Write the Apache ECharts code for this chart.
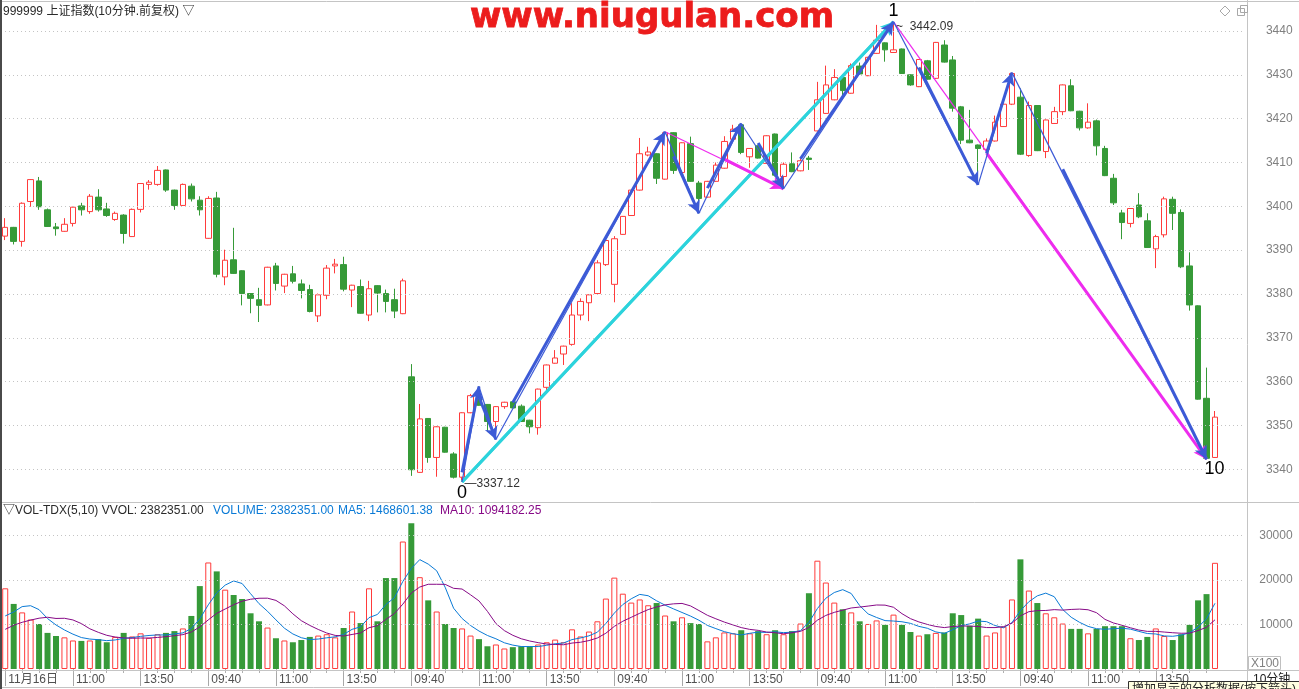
<!DOCTYPE html>
<html><head><meta charset="utf-8">
<script src="https://cdn.jsdelivr.net/npm/echarts@6/dist/echarts.min.js"></script>
<style>html,body{margin:0;padding:0;background:#fff;overflow:hidden}#c{width:1299px;height:689px}</style>
</head><body><div id="c"></div>
<script>
// ---------- data ----------
const sessionTimes = ['09:40','09:50','10:00','10:10','10:20','10:30','10:40','10:50','11:00','11:10','11:20','11:30',
  '13:10','13:20','13:30','13:40','13:50','14:00','14:10','14:20','14:30','14:40','14:50','15:00'];
const firstDateLabel = '11月16日';
const labelledTimes = ['09:40','11:00','13:50'];

const opens = [3393.2,3395.2,3392.0,3401.1,3405.8,3399.2,3395.3,3394.3,3396.1,3400.1,3398.8,3402.1,3399.4,3397.0,3398.0,3393.1,3399.3,3405.0,3405.0,3408.3,3403.7,3400.2,3404.6,3401.4,
  3392.7,3401.9,3383.9,3387.8,3385.3,3380.1,3378.7,3377.5,3386.4,3381.8,3384.6,3382.3,3381.0,3375.0,3379.7,3386.4,3386.7,3380.9,3381.7,3375.2,3381.9,3380.1,3378.7,3375.5,
  3361.1,3339.3,3351.6,3342.7,3349.6,3343.5,3338.2,3352.9,3356.5,3354.8,3350.9,3354.3,3355.4,3354.4,3351.2,3349.5,3358.7,3364.2,3366.3,3368.5,3375.2,3378.0,3380.1,3386.7,
  3382.2,3393.6,3397.9,3403.7,3411.7,3412.0,3406.2,3416.8,3407.7,3414.3,3405.3,3402.1,3405.7,3408.7,3415.3,3418.6,3411.3,3413.8,3409.8,3416.5,3406.8,3409.7,3408.1,3411.0,
  3417.2,3421.2,3424.3,3429.4,3425.8,3432.0,3429.8,3434.9,3437.3,3435.1,3435.9,3430.0,3427.3,3433.2,3429.2,3436.8,3433.4,3422.7,3415.1,3414.0,3413.0,3414.9,3418.2,3423.3,
  3424.9,3411.6,3423.0,3412.5,3418.9,3421.6,3427.5,3421.7,3417.9,3419.5,3413.2,3406.4,3398.5,3396.1,3400.3,3396.7,3390.3,3393.5,3401.6,3398.6,3386.4,3377.3,3356.2,3342.7];
const highs = [3397.3,3395.3,3400.9,3406.2,3406.7,3399.5,3396.2,3397.3,3399.9,3400.8,3402.8,3403.9,3400.8,3398.8,3398.2,3399.5,3405.3,3406.0,3409.2,3408.4,3403.8,3405.2,3405.2,3402.3,
  3402.3,3403.3,3390.1,3395.1,3385.4,3380.2,3381.4,3386.2,3387.1,3384.6,3386.4,3383.3,3382.1,3380.1,3386.6,3388.0,3388.5,3382.1,3383.3,3383.0,3382.0,3381.0,3381.2,3383.5,
  3364.0,3354.9,3351.7,3349.8,3349.7,3343.9,3353.0,3357.2,3358.9,3354.9,3354.4,3355.4,3355.5,3354.8,3351.3,3358.4,3363.9,3367.2,3368.2,3377.9,3379.0,3379.9,3387.7,3392.6,
  3393.2,3397.8,3403.9,3415.6,3413.6,3412.1,3417.0,3416.9,3414.6,3415.9,3405.8,3405.8,3410.0,3416.0,3418.6,3418.9,3413.3,3413.9,3416.2,3416.6,3410.0,3412.3,3411.0,3411.5,
  3428.4,3432.1,3431.3,3429.5,3432.6,3432.8,3434.1,3441.4,3437.4,3442.09,3436.0,3430.1,3433.6,3433.4,3437.5,3437.9,3434.3,3422.9,3422.0,3414.1,3415.5,3420.7,3423.4,3430.5,
  3426.9,3423.9,3423.1,3419.8,3422.7,3427.8,3429.0,3421.8,3423.5,3419.8,3413.8,3407.4,3399.2,3399.6,3403.0,3398.4,3393.5,3402.2,3402.2,3399.3,3389.5,3377.4,3363.2,3353.3];
const lows = [3392.3,3391.3,3390.8,3399.9,3399.2,3395.3,3393.3,3394.2,3395.4,3397.9,3398.3,3398.8,3397.6,3396.7,3391.5,3393.0,3398.6,3403.8,3404.7,3403.3,3399.2,3400.1,3401.1,3397.9,
  3392.6,3383.8,3382.0,3384.6,3377.4,3375.6,3373.6,3377.4,3380.8,3380.2,3382.4,3379.0,3375.8,3373.6,3378.8,3384.7,3380.6,3377.0,3375.5,3373.8,3375.8,3375.8,3374.5,3375.4,
  3338.5,3339.2,3341.5,3338.3,3343.8,3337.9,3337.12,3352.8,3354.5,3348.5,3346.8,3353.8,3353.9,3350.8,3348.2,3347.9,3358.1,3364.1,3363.8,3368.2,3374.0,3373.8,3380.0,3386.4,
  3378.1,3393.5,3397.8,3403.6,3411.4,3405.1,3406.1,3407.4,3407.6,3405.6,3398.4,3402.0,3405.6,3408.6,3415.2,3411.9,3408.8,3410.9,3409.7,3406.8,3404.0,3407.8,3408.0,3408.3,
  3417.1,3421.1,3424.2,3424.9,3425.7,3430.1,3429.7,3434.8,3433.0,3435.0,3430.2,3427.5,3427.2,3428.9,3429.1,3432.8,3421.6,3414.2,3414.4,3404.9,3412.9,3414.8,3418.1,3423.1,
  3411.7,3411.3,3412.6,3411.0,3418.8,3420.8,3421.7,3417.3,3417.7,3411.6,3406.9,3400.3,3392.5,3395.2,3397.3,3390.5,3385.9,3392.9,3394.6,3385.9,3376.2,3355.9,3342.3,3342.6];
const closes = [3395.2,3392.0,3400.7,3406.1,3399.9,3395.4,3394.9,3395.9,3399.8,3399.2,3402.3,3399.2,3397.9,3398.4,3393.8,3399.3,3405.2,3405.5,3408.2,3403.7,3400.2,3405.0,3401.7,3399.2,
  3401.8,3384.5,3387.7,3384.7,3380.1,3379.0,3377.4,3386.1,3382.4,3384.5,3382.9,3380.8,3376.0,3379.8,3385.9,3386.8,3381.1,3382.0,3375.6,3381.2,3380.2,3378.3,3376.1,3383.0,
  3339.9,3351.5,3342.7,3349.7,3343.9,3338.2,3352.9,3356.8,3354.6,3350.9,3354.3,3355.3,3354.0,3350.9,3349.7,3358.3,3363.8,3365.4,3368.1,3375.2,3378.3,3379.8,3387.1,3392.2,
  3392.6,3397.7,3403.7,3412.0,3412.4,3406.4,3416.8,3408.2,3414.5,3405.7,3401.8,3405.7,3409.4,3414.8,3417.6,3412.3,3413.2,3411.0,3416.1,3407.1,3409.6,3407.9,3410.4,3410.7,
  3424.3,3427.7,3429.4,3426.4,3432.1,3430.2,3434.0,3437.9,3435.7,3435.7,3430.3,3427.7,3433.5,3429.0,3437.4,3432.9,3422.4,3415.1,3414.5,3413.2,3414.9,3419.2,3423.3,3430.3,
  3411.9,3423.0,3412.7,3419.7,3421.6,3427.7,3421.8,3417.9,3419.2,3413.8,3407.0,3400.8,3396.3,3399.5,3397.6,3390.6,3393.1,3401.7,3398.4,3386.2,3377.5,3356.0,3342.5,3351.9];
const volumes = [18100,14600,12700,11100,10100,8100,7400,7100,6400,6300,6400,6700,6000,7200,8100,7300,8000,7000,7800,8100,8500,9100,11900,18600,
  23900,21900,17800,16600,15700,12500,10700,9300,6900,6400,6000,6500,7200,7500,7800,7100,9200,12900,10300,18100,10700,20400,20400,28600,
  32700,20600,15400,12900,10100,9200,9100,7500,6700,5100,5500,4600,4900,5100,5100,5500,6000,6600,6000,8900,7300,8400,10700,15800,
  20500,16900,14900,15600,14300,14800,12000,10700,11600,10300,10100,6200,7100,8200,8000,8700,8000,8500,7800,8700,7800,8500,10200,17000,
  24300,19400,14900,13400,12700,10700,10100,10900,9900,12200,9900,8300,7500,7800,8100,8200,12500,12100,9700,11300,7500,8200,9500,15600,
  24600,17600,14800,12500,11600,10200,9000,9000,8000,9000,9600,9600,9600,6900,6500,7200,9100,7400,6500,7800,9900,15400,16800,23824];
// volumes of the bars just before the window (only used to warm up the moving averages)
const volumesBefore = [5500,6000,6200,5800,6000,10100,6700,10100,14500];
const priceTicks = [3340,3350,3360,3370,3380,3390,3400,3410,3420,3430,3440];
const volumeTicks = [10000,20000,30000];
// wave annotation pivots [barIndex, price]
const wavePivots = [[54,3337.12],[56,3358.9],[58,3346.8],[78,3417.0],[82,3398.4],[87,3418.9],[92,3404.0],[105,3442.09],[115,3404.9],[119,3430.5],[142,3342.3]];
const waveTaper = [0.1,0.2,0.12,0.3,0.28,0.3,0.18,0.28,0.28,0.25];
const magentaArrows = [[[78,3417.0],[92,3404.0],0.48],[[105,3442.09],[142,3342.3],0.3]];
const cyanArrows = [[[54,3337.12],[105,3442.09],0]];
const waveLabels = [['0',54,3337.12,[0,11]],['1',105,3442.09,[0,-11]],['10',142,3342.3,[8,10]]];
const mainTitle = '999999 上证指数(10分钟.前复权) ▽';
const volTitle = ['▽VOL-TDX(5,10) VVOL: 2382351.00','VOLUME: 2382351.00','MA5: 1468601.38','MA10: 1094182.25'];

// ---------- build ----------
const FONT = "'Liberation Sans','Noto Sans CJK SC',sans-serif";
const RED = '#ff3b3b', GREEN = '#369a38';
const nBars = opens.length, padSlots = 3;
const categories = [];
for (let i = 0; i < nBars; i++) categories.push(Math.floor(i / 24) + '|' + sessionTimes[i % 24]);
for (let k = 0; k < padSlots; k++) categories.push('pad' + k);
const timeOf = v => v.indexOf('|') >= 0 ? v.split('|')[1] : '';
const isLabelled = (idx) => idx < nBars && labelledTimes.indexOf(sessionTimes[idx % 24]) >= 0;

const candleData = opens.map((o, i) => [o, closes[i], lows[i], highs[i]]);
const volData = volumes.map((v, i) => ({
  value: v,
  itemStyle: closes[i] >= opens[i] ? {color: '#ffffff', borderColor: RED, borderWidth: 1} : {color: GREEN, borderColor: GREEN, borderWidth: 0}
}));
const allVols = volumesBefore.concat(volumes);
function ma(n) {
  return volumes.map((v, i) => {
    const end = i + volumesBefore.length;
    let s = 0; for (let k = end - n + 1; k <= end; k++) s += allVols[k];
    return +(s / n).toFixed(1);
  });
}

function arrowItems(a, b, taper, color, thin, thick, size) {
  const items = [];
  const m = [a[0] + (b[0] - a[0]) * taper, a[1] + (b[1] - a[1]) * taper];
  items.push([{coord: a, symbol: 'none', lineStyle: {color, width: thin, type: 'solid'}},
              {coord: b, symbol: 'none', lineStyle: {color, width: thin, type: 'solid'}}]);
  items.push([{coord: m, symbol: 'none', lineStyle: {color, width: thick, type: 'solid'}},
              {coord: b, symbol: 'arrow', symbolSize: size, lineStyle: {color, width: thick, type: 'solid'}}]);
  return items;
}
let arrowData = [];
cyanArrows.forEach(c => { arrowData = arrowData.concat(arrowItems(c[0], c[1], c[2], '#2cd3dc', 3, 3, [10, 13])); });
magentaArrows.forEach(c => { arrowData = arrowData.concat(arrowItems(c[0], c[1], c[2], '#ee2cee', 1.2, 3, [10, 13])); });
for (let i = 0; i < wavePivots.length - 1; i++) {
  arrowData = arrowData.concat(arrowItems(wavePivots[i], wavePivots[i + 1], waveTaper[i], '#3c5ad6', 1.2, 3, [10, 13]));
}

let lowIdx = 0, highIdx = 0;
lows.forEach((v, i) => { if (v < lows[lowIdx]) lowIdx = i; });
highs.forEach((v, i) => { if (v > highs[highIdx]) highIdx = i; });
const hiddenSym = {symbol: 'rect', symbolSize: 1, itemStyle: {color: 'rgba(0,0,0,0)'}};
const markPoints = waveLabels.map(w => Object.assign({}, hiddenSym, {
  coord: [w[1], w[2]],
  label: {show: true, position: 'inside', offset: w[3], formatter: w[0], color: '#000', fontSize: 18, fontFamily: FONT}
}));
markPoints.push(Object.assign({}, hiddenSym, {coord: [lowIdx, lows[lowIdx]],
  label: {show: true, position: 'right', distance: 2, offset: [0, 2], formatter: '—' + lows[lowIdx].toFixed(2), color: '#333', fontSize: 12, fontFamily: FONT}}));
markPoints.push(Object.assign({}, hiddenSym, {coord: [highIdx, highs[highIdx]],
  label: {show: true, position: 'right', distance: 2, offset: [0, 5], formatter: '~  ' + highs[highIdx].toFixed(2), color: '#333', fontSize: 12, fontFamily: FONT}}));

const dotted = {color: '#c4c4c4', width: 1, type: [1, 3]};
const LINE = '#c4c4c4';
const option = {
  animation: false,
  backgroundColor: '#ffffff',
  textStyle: {fontFamily: FONT},
  grid: [
    {left: 1, top: 9.09, width: 1243.6, height: 482.12},
    {left: 1, top: 513, width: 1243.6, height: 156}
  ],
  xAxis: [
    {type: 'category', gridIndex: 0, data: categories, boundaryGap: true, axisLine: {show: false}, axisTick: {show: false}, axisLabel: {show: false}, splitLine: {show: false}},
    {type: 'category', gridIndex: 1, data: categories, boundaryGap: true, position: 'bottom',
      axisLine: {show: false},
      axisTick: {show: true, alignWithLabel: true, length: 17, interval: (idx) => isLabelled(idx), lineStyle: {color: '#a8a8a8'}},
      axisLabel: {show: true, interval: (idx) => isLabelled(idx), align: 'left', margin: 5, padding: [0, 0, 0, 3],
        formatter: (v, idx) => idx === 0 ? firstDateLabel : timeOf(v), color: '#505050', fontSize: 12, fontFamily: FONT},
      splitLine: {show: false}},
    {type: 'category', gridIndex: 1, data: categories, boundaryGap: true, position: 'bottom', offset: 0,
      axisLine: {show: false},
      axisTick: {show: true, alignWithLabel: true, length: 4, interval: (idx) => idx % 2 === 0 && idx < nBars, lineStyle: {color: '#b0b0b0'}},
      axisLabel: {show: false}, splitLine: {show: false}}
  ],
  yAxis: [
    {type: 'value', gridIndex: 0, position: 'right', min: 3335, max: 3445, interval: 5,
      axisLine: {show: false}, axisTick: {show: false}, splitLine: {show: false},
      axisLabel: {show: true, align: 'right', margin: 48, color: '#808080', fontSize: 12, fontFamily: FONT,
        formatter: v => priceTicks.indexOf(v) >= 0 ? String(v) : ''}},
    {type: 'value', gridIndex: 1, position: 'right', min: 0, max: 35000, interval: 5000,
      axisLine: {show: false}, axisTick: {show: false}, splitLine: {show: false},
      axisLabel: {show: true, align: 'right', margin: 48, color: '#808080', fontSize: 12, fontFamily: FONT,
        formatter: v => volumeTicks.indexOf(v) >= 0 ? String(v) : ''}}
  ],
  series: [
    {type: 'candlestick', name: 'K', xAxisIndex: 0, yAxisIndex: 0, data: candleData, barWidth: 6,
      itemStyle: {color: '#ffffff', color0: GREEN, borderColor: RED, borderColor0: GREEN, borderWidth: 1},
      markLine: {silent: true, symbol: ['none', 'none'], label: {show: false}, lineStyle: dotted,
        data: priceTicks.map(v => ({yAxis: v}))}},
    {type: 'bar', name: 'VOL', xAxisIndex: 1, yAxisIndex: 1, data: volData, barWidth: 6,
      markLine: {silent: true, symbol: ['none', 'none'], label: {show: false}, lineStyle: dotted,
        data: volumeTicks.map(v => ({yAxis: v}))}},
    {type: 'line', name: 'MA5', xAxisIndex: 1, yAxisIndex: 1, data: ma(5), showSymbol: false, symbol: 'none',
      lineStyle: {color: '#0a7ad6', width: 1}, z: 3},
    {type: 'line', name: 'MA10', xAxisIndex: 1, yAxisIndex: 1, data: ma(10), showSymbol: false, symbol: 'none',
      lineStyle: {color: '#870a87', width: 1}, z: 3},
    {type: 'line', name: 'annot', xAxisIndex: 0, yAxisIndex: 0, data: categories.map(() => '-'), showSymbol: false, symbol: 'none',
      silent: true, z: 5,
      markLine: {silent: true, symbol: ['none', 'none'], label: {show: false}, data: arrowData},
      markPoint: {silent: true, data: markPoints}}
  ],
  graphic: {elements: [
    {type: 'rect', shape: {x: 0, y: 0, width: 2, height: 689}, style: {fill: '#4a4a4a'}, z: 10},
    {type: 'line', shape: {x1: 2, y1: 1.5, x2: 1299, y2: 1.5}, style: {stroke: LINE, lineWidth: 1}, z: 10},
    {type: 'line', shape: {x1: 2, y1: 502.5, x2: 1299, y2: 502.5}, style: {stroke: LINE, lineWidth: 1}, z: 10},
    {type: 'line', shape: {x1: 1247.5, y1: 0, x2: 1247.5, y2: 689}, style: {stroke: LINE, lineWidth: 1}, z: 10},
    {type: 'line', shape: {x1: 2, y1: 670.5, x2: 1299, y2: 670.5}, style: {stroke: LINE, lineWidth: 1}, z: 10},
    {type: 'line', shape: {x1: 2, y1: 687.5, x2: 1247, y2: 687.5}, style: {stroke: LINE, lineWidth: 1}, z: 10},
    {type: 'text', x: 3, y: 11.5, style: {text: mainTitle, fill: '#2a2a2a', font: '12px ' + FONT, textVerticalAlign: 'middle'}, z: 10},
    {type: 'text', x: 652, y: 18, style: {text: 'www.niugulan.com', fill: '#ec1c1c', stroke: '#ec1c1c', lineWidth: 0.8, font: 'bold 34px "DejaVu Sans"', textAlign: 'center', textVerticalAlign: 'middle'}, z: 20},
    {type: 'text', x: 3, y: 511, style: {text: volTitle[0], fill: '#2a2a2a', font: '12px ' + FONT, textVerticalAlign: 'middle'}, z: 10},
    {type: 'text', x: 213, y: 511, style: {text: volTitle[1], fill: '#0a7ad6', font: '12px ' + FONT, textVerticalAlign: 'middle'}, z: 10},
    {type: 'text', x: 338, y: 511, style: {text: volTitle[2], fill: '#0a7ad6', font: '12px ' + FONT, textVerticalAlign: 'middle'}, z: 10},
    {type: 'text', x: 440, y: 511, style: {text: volTitle[3], fill: '#870a87', font: '12px ' + FONT, textVerticalAlign: 'middle'}, z: 10},
    {type: 'polygon', shape: {points: [[1225, 6], [1230, 11], [1225, 16], [1220, 11]]}, style: {fill: 'none', stroke: '#a8a8a8', lineWidth: 1}, z: 10},
    {type: 'rect', shape: {x: 1237.5, y: 8.5, width: 7, height: 7}, style: {fill: '#fff', stroke: '#a8a8a8', lineWidth: 1}, z: 10},
    {type: 'rect', shape: {x: 1240.5, y: 5.5, width: 7, height: 7}, style: {fill: 'none', stroke: '#a8a8a8', lineWidth: 1}, z: 11},
    {type: 'rect', shape: {x: 1248.5, y: 656.5, width: 32, height: 13}, style: {fill: '#fff', stroke: '#c0c0c0', lineWidth: 1}, z: 10},
    {type: 'text', x: 1251, y: 663.5, style: {text: 'X100', fill: '#808080', font: '12px ' + FONT, textVerticalAlign: 'middle'}, z: 11},
    {type: 'text', x: 1253, y: 680, style: {text: '10分钟', fill: '#202020', font: '12px ' + FONT, textVerticalAlign: 'middle'}, z: 11},
    {type: 'rect', shape: {x: 1128.5, y: 681.5, width: 180, height: 20}, style: {fill: '#ffffe1', stroke: '#303030', lineWidth: 1}, z: 12},
    {type: 'text', x: 1132, y: 684, style: {text: '增加显示的分析数据(按下箭头)', fill: '#202020', font: '12px ' + FONT, textVerticalAlign: 'top'}, z: 13}
  ]}
};
const chart = echarts.init(document.getElementById('c'), null, {renderer: 'canvas'});
chart.setOption(option);
</script></body></html>
